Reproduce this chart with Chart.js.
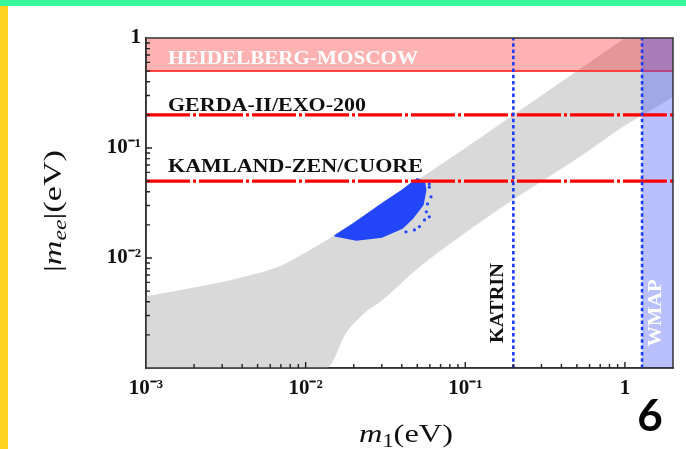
<!DOCTYPE html>
<html>
<head>
<meta charset="utf-8">
<script src="https://cdn.jsdelivr.net/npm/chart.js@4.4.1/dist/chart.umd.min.js"></script>
<style>
  html, body { margin: 0; padding: 0; background: #fff; }
  #wrap { position: relative; width: 686px; height: 449px; overflow: hidden; }
  #topbar { position: absolute; left: 0; top: 0; width: 686px; height: 6px; background: #36f89a; }
  #sidebar { position: absolute; left: 0; top: 6px; width: 8px; height: 443px; background: #fed321; }
  canvas { position: absolute; left: 0; top: 0; }
</style>
</head>
<body>
<div id="wrap">
  <canvas id="myChart" width="686" height="449"></canvas>
  <div id="topbar"></div>
  <div id="sidebar"></div>
</div>
<script>
// allowed band of |m_ee| vs m1 (upper / lower edge at the same m1 values)
var bandM1    = [0.001, 0.002, 0.004, 0.007, 0.01, 0.0135, 0.018, 0.023, 0.03, 0.05, 0.1, 0.2, 0.5, 1, 2];
var bandUpper = [0.0045, 0.0054, 0.0067, 0.0085, 0.0112, 0.0145, 0.019, 0.024, 0.031, 0.051, 0.1, 0.2, 0.5, 1, 2];
var bandLower = [0.001, 0.001, 0.001, 0.001, 0.001, 0.001, 0.0021, 0.0031, 0.0041, 0.0080, 0.017, 0.034, 0.08, 0.16, 0.29];

// outline of the dense model points
var cloudM1  = [0.0152, 0.02, 0.03, 0.04, 0.05, 0.0555, 0.0565, 0.0543, 0.0467, 0.0403, 0.030, 0.0208, 0.0152];
var cloudMee = [0.0159, 0.0205, 0.031, 0.041, 0.0524, 0.049, 0.0414, 0.0305, 0.023, 0.0187, 0.0155, 0.0146, 0.0159];

// loose points at the right of the cloud
var dotM1  = [0.0595, 0.061, 0.057, 0.0595, 0.0555, 0.0516, 0.048, 0.0425, 0.0595, 0.058];
var dotMee = [0.044, 0.036, 0.0263, 0.0237, 0.0222, 0.0193, 0.018, 0.0173, 0.047, 0.031];

// experimental limits (eV)
var hmLimit = 0.5;
var gerdaLimit = 0.2;
var kamlandLimit = 0.05;
var katrinLimit = 0.2;
var wmapLimit = 1.28;

var xMin = 0.001, xMax = 2;
var yMin = 0.001, yMax = 1;

var xTickValues = [0.001, 0.01, 0.1, 1];
var xTickLabels = ['10\u207B\u00B3', '10\u207B\u00B2', '10\u207B\u00B9', '1'];
var yTickValues = [0.01, 0.1, 1];
var yTickLabels = ['10\u207B\u00B2', '10\u207B\u00B9', '1'];

function pts(xs, ys) {
  return xs.map(function (v, i) { return {x: v, y: ys[i]}; });
}

function isDecade(v) {
  var e = Math.log10(v);
  return Math.abs(e - Math.round(e)) < 1e-6;
}

function labelFor(values, labels) {
  return function (value) {
    for (var i = 0; i < values.length; i++) {
      if (Math.abs(Math.log10(values[i]) - Math.log10(value)) < 1e-6) return labels[i];
    }
    return '';
  };
}

// keep only 1..9 x 10^n ticks
function integerTicks(scale) {
  scale.ticks = scale.ticks.filter(function (t) {
    var m = t.value / Math.pow(10, Math.floor(Math.log10(t.value) + 1e-9));
    return Math.abs(m - Math.round(m)) < 1e-6;
  });
}

// text squeezed/stretched to a given width (wide bold caps)
function fitText(ctx, text, x, y, width) {
  var w = ctx.measureText(text).width;
  ctx.save();
  ctx.translate(x, y);
  ctx.scale(width / w, 1);
  ctx.fillText(text, 0, 0);
  ctx.restore();
}

// pieces: [text, font, dy], centred on cx
function richText(ctx, pieces, cx, y, width) {
  var total = 0;
  pieces.forEach(function (p) { ctx.font = p[1]; total += ctx.measureText(p[0]).width; });
  var k = width / total;
  ctx.save();
  ctx.translate(cx - width / 2, y);
  ctx.scale(k, 1);
  ctx.textAlign = 'left';
  var x = 0;
  pieces.forEach(function (p) {
    ctx.font = p[1];
    ctx.fillText(p[0], x, p[2]);
    x += ctx.measureText(p[0]).width;
  });
  ctx.restore();
}

var decorations = {
  id: 'decorations',
  afterDraw: function (chart) {
    var ctx = chart.ctx, a = chart.chartArea;
    var x = chart.scales.x, y = chart.scales.y;
    ctx.save();

    // frame
    ctx.strokeStyle = '#333333';
    ctx.lineWidth = 1.5;
    ctx.strokeRect(a.left, a.top, a.right - a.left, a.bottom - a.top);

    // inward tick marks, longer on the decades
    ctx.strokeStyle = '#222222';
    ctx.lineWidth = 1.4;
    ctx.beginPath();
    x.ticks.forEach(function (t) {
      var px = x.getPixelForValue(t.value);
      if (px <= a.left + 1 || px >= a.right - 1) return;
      var len = isDecade(t.value) ? 6 : 4;
      ctx.moveTo(px, a.bottom);
      ctx.lineTo(px, a.bottom - len);
    });
    y.ticks.forEach(function (t) {
      var py = y.getPixelForValue(t.value);
      if (py <= a.top + 1 || py >= a.bottom - 1) return;
      var len = isDecade(t.value) ? 6 : 4;
      ctx.moveTo(a.left, py);
      ctx.lineTo(a.left + len, py);
    });
    ctx.stroke();

    ctx.textAlign = 'left';
    ctx.textBaseline = 'alphabetic';
    ctx.font = 'bold 18px "Liberation Serif"';
    ctx.fillStyle = '#ffffff';
    fitText(ctx, 'HEIDELBERG-MOSCOW', 168, y.getPixelForValue(hmLimit) - 7, 250);
    ctx.fillStyle = '#111111';
    fitText(ctx, 'GERDA-II/EXO-200', 168, y.getPixelForValue(gerdaLimit) - 4, 198);
    fitText(ctx, 'KAMLAND-ZEN/CUORE', 168, y.getPixelForValue(kamlandLimit) - 9, 255);

    // rotated labels next to the vertical limits
    ctx.save();
    ctx.translate(x.getPixelForValue(katrinLimit) - 15, 303);
    ctx.rotate(-Math.PI / 2);
    ctx.textAlign = 'center';
    ctx.textBaseline = 'middle';
    ctx.fillStyle = '#111111';
    fitText(ctx, 'KATRIN', 0, 0, 80);
    ctx.restore();

    ctx.save();
    ctx.translate(x.getPixelForValue(wmapLimit) + 14, 313);
    ctx.rotate(-Math.PI / 2);
    ctx.textAlign = 'center';
    ctx.textBaseline = 'middle';
    ctx.fillStyle = '#ffffff';
    fitText(ctx, 'WMAP', 0, 0, 67);
    ctx.restore();

    // axis titles
    ctx.fillStyle = '#111111';
    ctx.textBaseline = 'alphabetic';
    richText(ctx, [
      ['m', 'italic 26px "Liberation Serif"', 0],
      ['1', '18px "Liberation Serif"', 5],
      ['(eV)', '26px "Liberation Serif"', 0]
    ], 406, 442, 94);

    ctx.save();
    ctx.translate(61, 211);
    ctx.rotate(-Math.PI / 2);
    richText(ctx, [
      ['|', '26px "Liberation Serif"', 0],
      ['m', 'italic 26px "Liberation Serif"', 0],
      ['ee', 'italic 18px "Liberation Serif"', 5],
      ['|', '26px "Liberation Serif"', 0],
      ['(eV)', '26px "Liberation Serif"', 0]
    ], 0, 0, 122);
    ctx.restore();

    ctx.font = 'bold 44px "Lato"';
    ctx.textAlign = 'center';
    ctx.textBaseline = 'middle';
    ctx.fillStyle = '#000000';
    ctx.fillText('6', 650, 417);

    ctx.restore();
  }
};

var edge = {pointRadius: 0, tension: 0};
var smoothEdge = {pointRadius: 0, cubicInterpolationMode: 'monotone'};

var config = {
  type: 'line',
  data: {
    datasets: [
      Object.assign({label: 'band upper', data: pts(bandM1, bandUpper), borderWidth: 0,
        backgroundColor: 'rgb(217,217,217)', fill: 1, order: 10}, smoothEdge),
      Object.assign({label: 'band lower', data: pts(bandM1, bandLower), borderWidth: 0,
        fill: false, order: 11}, smoothEdge),
      Object.assign({label: 'model', data: pts(cloudM1, cloudMee), borderWidth: 1.5,
        borderColor: 'rgb(35,70,250)', backgroundColor: 'rgb(35,70,250)', fill: 'shape', order: 9}, edge),
      {label: 'model loose', data: pts(dotM1, dotMee), showLine: false, pointRadius: 1.6,
        pointBorderWidth: 0, pointBackgroundColor: 'rgb(35,70,250)', order: 8},
      Object.assign({label: 'HM', data: pts([xMin, xMax], [hmLimit, hmLimit]), borderWidth: 2,
        borderColor: 'rgba(255,40,40,0.85)', backgroundColor: 'rgba(255,0,0,0.3)', fill: 'end', order: 7}, edge),
      Object.assign({label: 'WMAP band', data: pts([wmapLimit, xMax], [yMax, yMax]), borderWidth: 0,
        backgroundColor: 'rgba(60,80,245,0.36)', fill: 'start', order: 6}, edge),
      Object.assign({label: 'GERDA', data: pts([xMin, xMax], [gerdaLimit, gerdaLimit]), borderWidth: 3.2,
        borderColor: '#ff0000', borderDash: [44, 3, 3, 3], fill: false, order: 5}, edge),
      Object.assign({label: 'KamLAND', data: pts([xMin, xMax], [kamlandLimit, kamlandLimit]), borderWidth: 3.2,
        borderColor: '#ff0000', borderDash: [44, 3, 3, 3], fill: false, order: 4}, edge),
      Object.assign({label: 'KATRIN', data: pts([katrinLimit, katrinLimit], [yMin, yMax]), borderWidth: 2.6,
        borderColor: 'rgb(30,60,255)', borderDash: [3.5, 2.8], fill: false, order: 3}, edge),
      Object.assign({label: 'WMAP', data: pts([wmapLimit, wmapLimit], [yMin, yMax]), borderWidth: 2.6,
        borderColor: 'rgb(30,60,255)', borderDash: [3.5, 2.8], fill: false, order: 2}, edge)
    ]
  },
  options: {
    responsive: false,
    animation: false,
    layout: {padding: {top: 38, right: 13, left: 0, bottom: 0}},
    plugins: {legend: {display: false}, tooltip: {enabled: false}},
    scales: {
      x: {
        type: 'logarithmic',
        min: xMin,
        max: xMax,
        afterBuildTicks: integerTicks,
        afterFit: function (s) { s.height = 81; },
        border: {display: true, color: '#333333', width: 1.5},
        grid: {drawOnChartArea: false, drawTicks: false},
        ticks: {
          autoSkip: false, maxRotation: 0, padding: 8, color: '#111',
          font: {family: 'Liberation Serif', size: 21, weight: 'bold'},
          callback: labelFor(xTickValues, xTickLabels)
        }
      },
      y: {
        type: 'logarithmic',
        min: yMin,
        max: yMax,
        afterBuildTicks: integerTicks,
        afterFit: function (s) { s.width = 146; },
        border: {display: true, color: '#333333', width: 1.5},
        grid: {drawOnChartArea: false, drawTicks: false},
        ticks: {
          autoSkip: false, padding: 5, color: '#111',
          font: {family: 'Liberation Serif', size: 21, weight: 'bold'},
          callback: labelFor(yTickValues, yTickLabels)
        }
      }
    }
  },
  plugins: [decorations]
};

new Chart(document.getElementById('myChart'), config);
</script>
</body>
</html>
